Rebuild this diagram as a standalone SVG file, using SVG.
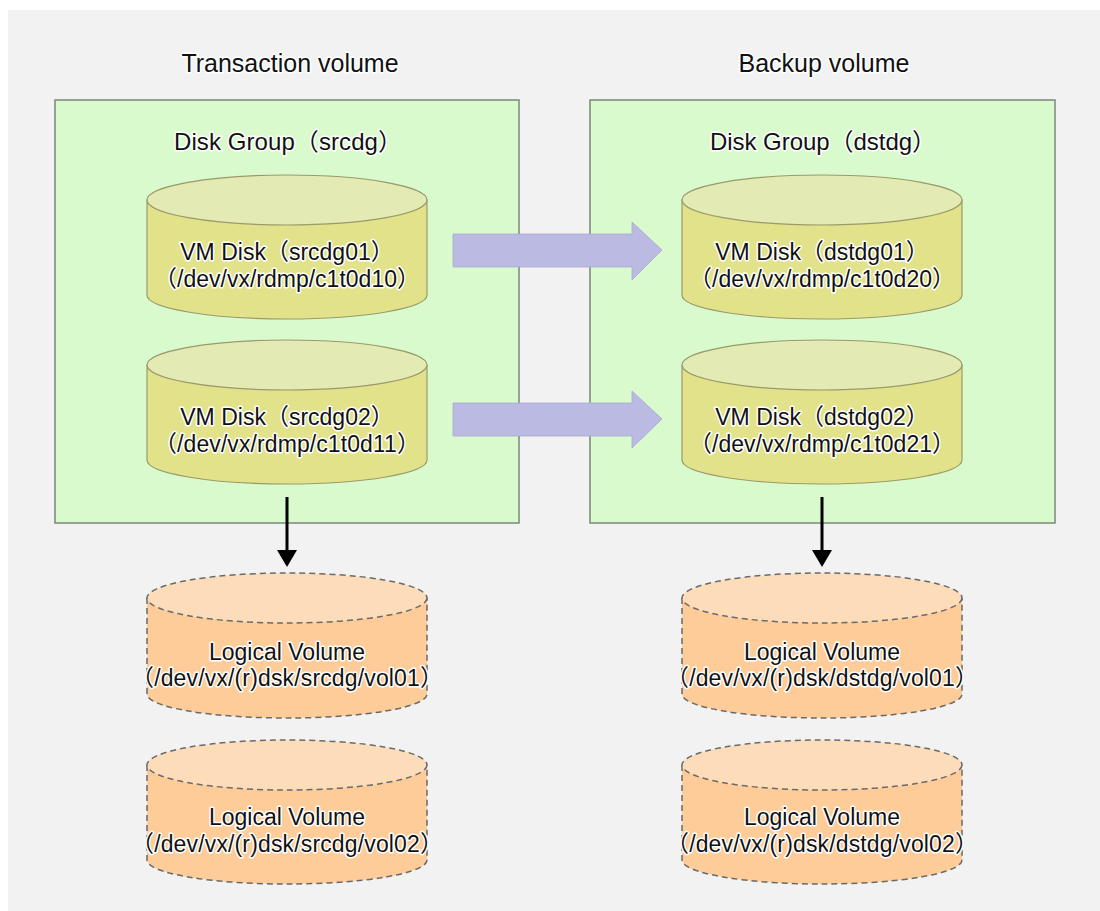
<svg xmlns="http://www.w3.org/2000/svg" width="1100" height="911" viewBox="0 0 1100 911">
<style>
.t{font-family:"Liberation Sans","Noto Sans CJK JP",sans-serif;fill:#111;text-anchor:middle;stroke:#fff;stroke-width:3;stroke-linejoin:round;paint-order:stroke}
.h{font-size:25px}
.g{font-size:24px}
.c{font-size:23px}
.grp{fill:#d9facc;stroke:#7a887a;stroke-width:1.5}
.dbody{fill:#e2e28a;stroke:#9a9a6a;stroke-width:1.2}
.dtop{fill:#e3eab4;stroke:#9a9a6a;stroke-width:1.2}
.lbody{fill:#fdcc99;stroke:#6a6a6a;stroke-width:1.5;stroke-dasharray:6 4}
.ltop{fill:#fddcb9;stroke:#6a6a6a;stroke-width:1.5;stroke-dasharray:6 4}
.blk{fill:#babae2;stroke:#a8a8d4;stroke-width:0.8}
.dn{stroke:#000;stroke-width:3;fill:none}
</style>
<defs>
<marker id="ah" markerUnits="userSpaceOnUse" markerWidth="17" markerHeight="20" viewBox="0 0 17 20" refX="0" refY="10" orient="auto">
<path d="M0,0 L17,10 L0,20 Z" fill="#000"/>
</marker>
</defs>
<rect x="8" y="10" width="1092" height="901" fill="#f2f2f2"/>

<text class="t h" x="290" y="72">Transaction volume</text>
<text class="t h" x="824" y="72">Backup volume</text>

<g id="dg-src">
<rect class="grp" x="55" y="100" width="464" height="423"/>
<text class="t g" x="288" y="150" textLength="228" lengthAdjust="spacing">Disk Group（srcdg）</text>
</g>
<g id="dg-dst">
<rect class="grp" x="590" y="100" width="465" height="423"/>
<text class="t g" x="823" y="150" textLength="226" lengthAdjust="spacing">Disk Group（dstdg）</text>
</g>

<g id="vm-srcdg01">
<path class="dbody" d="M147,200 L147,295 A140,24 0 0 0 427,295 L427,200 Z"/>
<ellipse class="dtop" cx="287" cy="200" rx="140" ry="25"/>
<text class="t c" x="287" y="260">VM Disk（srcdg01）</text>
<text class="t c" x="287" y="287" textLength="266" lengthAdjust="spacing">（/dev/vx/rdmp/c1t0d10）</text>
</g>
<g id="vm-srcdg02">
<path class="dbody" d="M147,365 L147,460 A140,24 0 0 0 427,460 L427,365 Z"/>
<ellipse class="dtop" cx="287" cy="365" rx="140" ry="25"/>
<text class="t c" x="287" y="425">VM Disk（srcdg02）</text>
<text class="t c" x="287" y="452" textLength="266" lengthAdjust="spacing">（/dev/vx/rdmp/c1t0d11）</text>
</g>
<g id="vm-dstdg01">
<path class="dbody" d="M682,200 L682,295 A140,24 0 0 0 962,295 L962,200 Z"/>
<ellipse class="dtop" cx="822" cy="200" rx="140" ry="25"/>
<text class="t c" x="822" y="260">VM Disk（dstdg01）</text>
<text class="t c" x="822" y="287" textLength="266" lengthAdjust="spacing">（/dev/vx/rdmp/c1t0d20）</text>
</g>
<g id="vm-dstdg02">
<path class="dbody" d="M682,365 L682,460 A140,24 0 0 0 962,460 L962,365 Z"/>
<ellipse class="dtop" cx="822" cy="365" rx="140" ry="25"/>
<text class="t c" x="822" y="425">VM Disk（dstdg02）</text>
<text class="t c" x="822" y="452" textLength="266" lengthAdjust="spacing">（/dev/vx/rdmp/c1t0d21）</text>
</g>

<g id="lv-src-vol01">
<path class="lbody" d="M147,598 L147,694 A140,24 0 0 0 427,694 L427,598"/>
<ellipse class="ltop" cx="287" cy="598" rx="140" ry="25"/>
<text class="t c" x="287" y="660">Logical Volume</text>
<text class="t c" x="287" y="686" textLength="312" lengthAdjust="spacing">（/dev/vx/(r)dsk/srcdg/vol01）</text>
</g>
<g id="lv-src-vol02">
<path class="lbody" d="M147,765 L147,860 A140,24 0 0 0 427,860 L427,765"/>
<ellipse class="ltop" cx="287" cy="765" rx="140" ry="25"/>
<text class="t c" x="287" y="825">Logical Volume</text>
<text class="t c" x="287" y="852" textLength="312" lengthAdjust="spacing">（/dev/vx/(r)dsk/srcdg/vol02）</text>
</g>
<g id="lv-dst-vol01">
<path class="lbody" d="M682,598 L682,694 A140,24 0 0 0 962,694 L962,598"/>
<ellipse class="ltop" cx="822" cy="598" rx="140" ry="25"/>
<text class="t c" x="822" y="660">Logical Volume</text>
<text class="t c" x="822" y="686" textLength="312" lengthAdjust="spacing">（/dev/vx/(r)dsk/dstdg/vol01）</text>
</g>
<g id="lv-dst-vol02">
<path class="lbody" d="M682,765 L682,860 A140,24 0 0 0 962,860 L962,765"/>
<ellipse class="ltop" cx="822" cy="765" rx="140" ry="25"/>
<text class="t c" x="822" y="825">Logical Volume</text>
<text class="t c" x="822" y="852" textLength="312" lengthAdjust="spacing">（/dev/vx/(r)dsk/dstdg/vol02）</text>
</g>

<g id="connectors">
<path class="blk" d="M453,234 L632,234 L632,222 L662,250 L632,280 L632,267 L453,267 Z"/>
<path class="blk" d="M453,403 L632,403 L632,391 L662,419 L632,448 L632,436 L453,436 Z"/>
<line class="dn" x1="287" y1="497" x2="287" y2="550" marker-end="url(#ah)"/>
<line class="dn" x1="822" y1="497" x2="822" y2="550" marker-end="url(#ah)"/>
</g>
</svg>
